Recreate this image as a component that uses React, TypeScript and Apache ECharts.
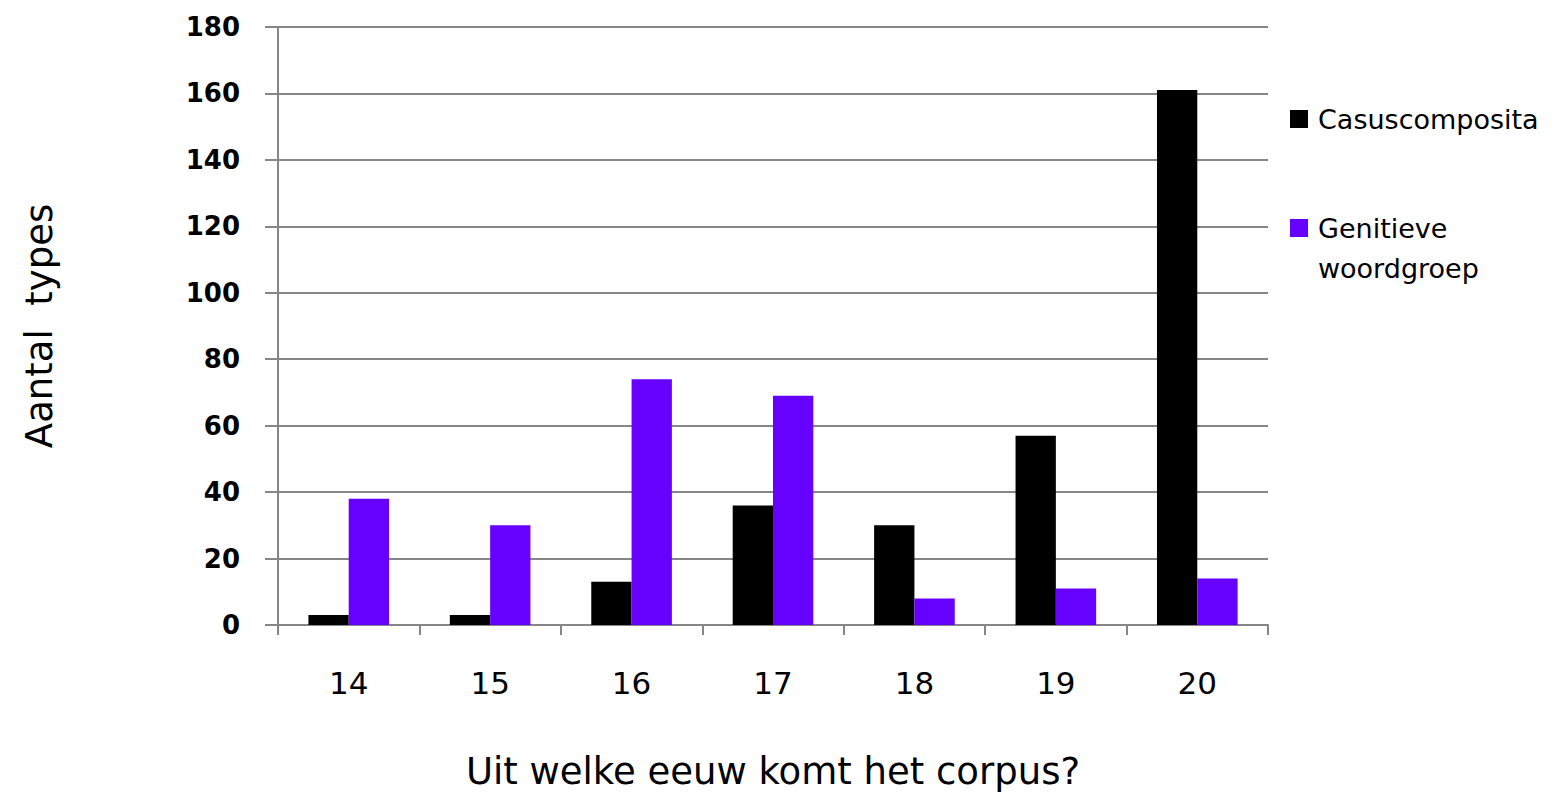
import React, { useEffect, useRef } from "react";
import * as echarts from "echarts";

const categories = ["14", "15", "16", "17", "18", "19", "20"];
const casuscomposita = [3, 3, 13, 36, 30, 57, 161];
const genitieveWoordgroep = [38, 30, 74, 69, 8, 11, 14];
const seriesNames = ["Casuscomposita", "Genitieve woordgroep"];

const FONT = "'DejaVu Sans', Verdana, sans-serif";
const AXIS_GRAY = "#868686";

export default function App() {
  const ref = useRef<HTMLDivElement>(null);
  useEffect(() => {
    if (!ref.current) return;
    const chart = echarts.init(ref.current, undefined, { renderer: "svg" });
    chart.setOption({
      animation: false,
      backgroundColor: "#ffffff",
      grid: { left: 278, right: 291, top: 27, bottom: 171, containLabel: false, outerBoundsMode: "none" },
      legend: [
        {
          data: [seriesNames[0]],
          orient: "vertical",
          left: 1290,
          top: 99,
          padding: 0,
          icon: "rect",
          itemWidth: 18,
          itemHeight: 18,
          textStyle: { fontFamily: FONT, fontSize: 27, color: "#000", lineHeight: 40, padding: [0, 0, 0, 5] },
        },
        {
          data: [seriesNames[1]],
          orient: "vertical",
          left: 1290,
          top: 208,
          padding: 0,
          icon: "rect",
          itemWidth: 18,
          itemHeight: 18,
          formatter: () => "Genitieve",
          textStyle: { fontFamily: FONT, fontSize: 27, color: "#000", lineHeight: 40, padding: [0, 0, 0, 5] },
        },
      ],
      graphic: [
        {
          type: "text",
          left: 1318,
          top: 255,
          style: { text: "woordgroep", fontFamily: FONT, fontSize: 27, fill: "#000" },
        },
      ],
      xAxis: {
        type: "category",
        data: categories,
        name: "Uit welke eeuw komt het corpus?",
        nameLocation: "middle",
        nameGap: 128,
        nameTextStyle: { fontFamily: FONT, fontSize: 37, color: "#000" },
        axisLine: { show: true, lineStyle: { color: AXIS_GRAY, width: 2 } },
        axisTick: { show: true, length: 10, alignWithLabel: false, lineStyle: { color: AXIS_GRAY, width: 2 } },
        axisLabel: { fontFamily: FONT, fontSize: 31, color: "#000", margin: 42 },
        splitLine: { show: false },
      },
      yAxis: {
        type: "value",
        min: 0,
        max: 180,
        interval: 20,
        name: "Aantal  types",
        nameLocation: "middle",
        nameGap: 220,
        nameRotate: 90,
        nameTextStyle: { fontFamily: FONT, fontSize: 37, color: "#000" },
        axisLine: { show: true, lineStyle: { color: AXIS_GRAY, width: 2 } },
        axisTick: { show: true, length: 13, lineStyle: { color: AXIS_GRAY, width: 2 } },
        axisLabel: { fontFamily: FONT, fontSize: 26, fontWeight: "bold", color: "#000", margin: 38 },
        splitLine: { show: true, lineStyle: { color: AXIS_GRAY, width: 2 } },
      },
      series: [
        {
          name: seriesNames[0],
          type: "bar",
          data: casuscomposita,
          itemStyle: { color: "#000000" },
          barGap: "0%",
          barCategoryGap: "43%",
        },
        {
          name: seriesNames[1],
          type: "bar",
          data: genitieveWoordgroep,
          itemStyle: { color: "#6600FF" },
          barGap: "0%",
          barCategoryGap: "43%",
        },
      ],
    });
    return () => chart.dispose();
  }, []);
  return (
    <div
      ref={ref}
      style={{ position: "fixed", left: 0, top: 0, width: 1559, height: 796, background: "#fff" }}
    />
  );
}
